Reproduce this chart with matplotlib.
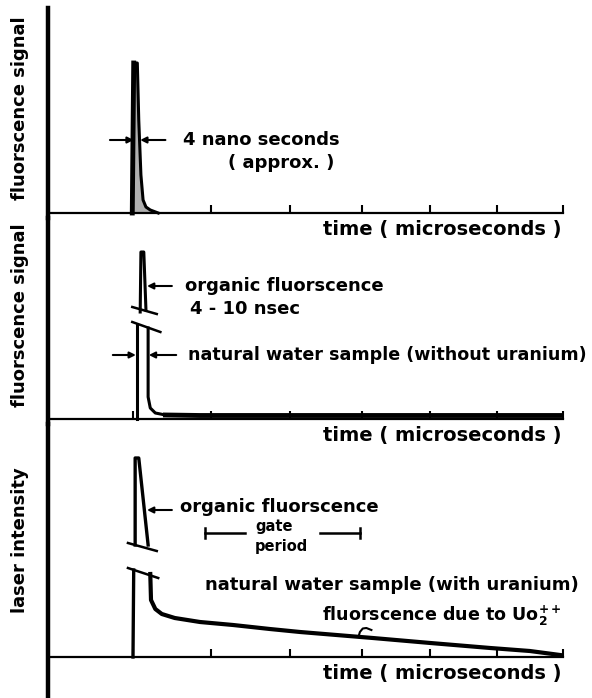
import numpy as np
import matplotlib.pyplot as plt

plt.rcParams['font.family'] = ['DejaVu Sans']
plt.rcParams['font.weight'] = 'bold'
plt.rcParams['mathtext.fontset'] = 'custom'
plt.rcParams['mathtext.rm'] = 'DejaVu Sans'

W, H = 592, 698

# time axis (arbitrary units), tick marks along each axis
tick_pos = [1.18, 2.26, 3.36, 4.36, 5.31, 6.24, 7.15]
x_max = 7.15

# panel 1 : laser pulse only
p1_x = [1.17, 1.19, 1.24, 1.26, 1.29, 1.32, 1.36, 1.42, 1.53]
p1_y = [0, 150, 150, 93, 38, 13, 6, 3, 0]

# panel 2 : natural water sample (without uranium)
p2_top_x = [1.28, 1.29, 1.33, 1.36]
p2_top_y = [107, 167, 167, 109]
p2_left_x = [1.24, 1.24]
p2_left_y = [0, 94]
p2_tail_x = [1.39, 1.39, 1.42, 1.49, 1.63, 2.11, 7.15]
p2_tail_y = [91, 22, 11, 6, 4, 3.5, 3.5]

# panel 3 : natural water sample (with uranium)
p3_top_x = [1.21, 1.21, 1.26, 1.39]
p3_top_y = [112, 199, 199, 112]
p3_left_x = [1.18, 1.19]
p3_left_y = [0, 87]
p3_tail_x = [1.42, 1.43, 1.49, 1.58, 1.76, 2.11, 2.57, 3.08, 3.50, 4.51, 5.31, 6.14, 6.69, 7.11]
p3_tail_y = [83, 57, 48, 43, 39, 35, 32, 28, 25, 19, 14, 9, 6, 2]

# axis breaks on the tall spikes
p2_breaks = [([1.17, 1.51], [112, 105]), ([1.17, 1.56], [97, 87])]
p3_breaks = [([1.11, 1.51], [114, 106]), ([1.11, 1.53], [89, 79])]

# little pointer from the uranium label to the curve
hook_x = [4.31, 4.33, 4.37, 4.42, 4.49]
hook_y = [20, 25, 28.5, 29, 27]

ylims = [(-5, 205), (-5, 201), (-41, 233)]
panel_px = [(8, 218), (218, 424), (424, 698)]   # top, bottom in pixels
ylabels = ['fluorscence signal', 'fluorscence signal', 'laser intensity']
ylabel_px = [108, 315, 540]

fig = plt.figure(figsize=(W / 100, H / 100), dpi=100)
axes = []
for (top, bot), yl in zip(panel_px, ylims):
    ax = fig.add_axes([48 / W, 1 - bot / H, (563 - 48) / W, (bot - top) / H])
    ax.set_xlim(0, x_max)
    ax.set_ylim(*yl)
    ax.patch.set_alpha(0)
    ax.spines['top'].set_visible(False)
    ax.spines['right'].set_visible(False)
    ax.spines['left'].set_linewidth(3.2)
    ax.spines['bottom'].set_position(('data', 0))
    ax.spines['bottom'].set_linewidth(1.6)
    ax.set_xticks(tick_pos)
    ax.set_xticklabels([])
    ax.tick_params(axis='x', direction='in', length=6, width=1.5)
    ax.set_yticks([])
    ax.text(3.82, -7, 'time ( microseconds )', fontsize=14, fontweight='bold',
            ha='left', va='top')
    axes.append(ax)

for lab, py in zip(ylabels, ylabel_px):
    fig.text(20 / W, 1 - py / H, lab, rotation=90, fontsize=13,
             fontweight='bold', ha='center', va='center')

arrow = dict(arrowstyle='-|>', lw=1.5, color='k', mutation_scale=9,
             shrinkA=0, shrinkB=0)

# ---- panel 1
ax = axes[0]
ax.fill(p1_x, p1_y, color='#b0b0b0')
ax.plot(p1_x, p1_y, color='k', lw=2.2)
ax.plot(p1_x[:2], p1_y[:2], color='k', lw=3.5)
ax.annotate('', xy=(1.19, 73), xytext=(0.86, 73), arrowprops=arrow)
ax.annotate('', xy=(1.28, 73), xytext=(1.63, 73), arrowprops=arrow)
ax.text(1.88, 73, '4 nano seconds', fontsize=13, va='center', ha='left')
ax.text(2.5, 50, '( approx. )', fontsize=13, va='center', ha='left')

# ---- panel 2
ax = axes[1]
ax.plot(p2_top_x, p2_top_y, color='k', lw=2.2)
ax.plot(p2_left_x, p2_left_y, color='k', lw=2.2)
ax.plot(p2_tail_x[:5], p2_tail_y[:5], color='k', lw=2.2)
ax.plot(p2_tail_x[4:], p2_tail_y[4:], color='k', lw=3.5)
for bx, by in p2_breaks:
    ax.plot(bx, by, color='k', lw=1.8)
ax.annotate('', xy=(1.375, 133), xytext=(1.72, 133), arrowprops=arrow)
ax.text(1.90, 133, 'organic fluorscence', fontsize=13, va='center', ha='left')
ax.text(1.97, 110, '4 - 10 nsec', fontsize=13, va='center', ha='left')
ax.annotate('', xy=(1.22, 64), xytext=(0.90, 64), arrowprops=arrow)
ax.annotate('', xy=(1.40, 64), xytext=(1.78, 64), arrowprops=arrow)
ax.text(1.94, 64, 'natural water sample (without uranium)', fontsize=12.6,
        va='center', ha='left')

# ---- panel 3
ax = axes[2]
ax.plot(p3_top_x, p3_top_y, color='k', lw=2.4)
ax.plot(p3_left_x, p3_left_y, color='k', lw=2.4)
ax.plot(p3_tail_x, p3_tail_y, color='k', lw=3.0)
for bx, by in p3_breaks:
    ax.plot(bx, by, color='k', lw=1.8)
ax.annotate('', xy=(1.375, 147), xytext=(1.72, 147), arrowprops=arrow)
ax.text(1.83, 150, 'organic fluorscence', fontsize=13, va='center', ha='left')
ax.text(2.875, 131, 'gate', fontsize=10.5, va='center', ha='left')
ax.text(2.875, 111, 'period', fontsize=10.5, va='center', ha='left')
ax.plot([2.18, 2.74], [124, 124], color='k', lw=1.8)
ax.plot([2.18, 2.18], [119, 129], color='k', lw=1.8)
ax.plot([3.78, 4.33], [124, 124], color='k', lw=1.8)
ax.plot([4.33, 4.33], [119, 129], color='k', lw=1.8)
ax.text(2.18, 72, 'natural water sample (with uranium)', fontsize=13,
        va='center', ha='left')
ax.text(3.81, 41, r'fluorscence due to Uo$_2^{++}$', fontsize=12.6,
        va='center', ha='left')
ax.plot(hook_x, hook_y, color='k', lw=1.5)

fig.savefig('out.png', dpi=100, facecolor='white')
